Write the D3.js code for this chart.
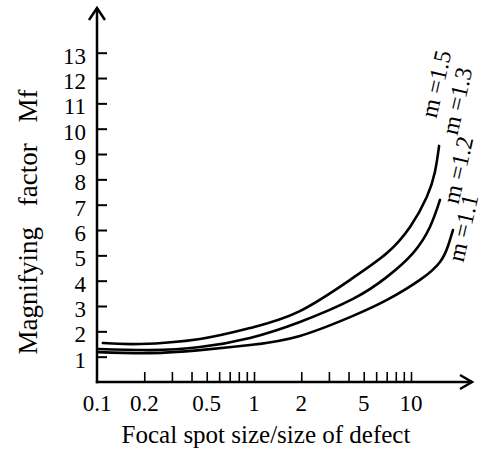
<!DOCTYPE html>
<html>
<head>
<meta charset="utf-8">
<script src="https://cdn.jsdelivr.net/npm/d3@7"></script>
<style>
  html, body { margin: 0; padding: 0; background: #fff; }
  svg { display: block; }
  text { font-family: "Liberation Serif", "Times New Roman", serif; fill: #000; }
</style>
</head>
<body>
<svg id="chart" width="485" height="452"></svg>
<script>
// ---- data ----
const xTickValues = [0.2, 0.3, 0.4, 0.5, 0.6, 0.7, 0.8, 0.9, 1, 2, 3, 4, 5, 6, 7, 8, 9, 10];
const xTickLabels = [0.1, 0.2, 0.5, 1, 2, 5, 10];
const yTickValues = [1, 2, 3, 4, 5, 6, 7, 8, 9, 10, 11, 12, 13];

// upper curve
const xUpper = [0.109, 0.188, 0.453, 0.943, 1.96, 4.27, 7.03, 9.86, 12.6, 14.2, 15.1];
const yUpper = [1.54, 1.50, 1.70, 2.13, 2.80, 4.11, 5.09, 6.12, 7.30, 8.29, 9.32];
// middle curve
const xMiddle = [0.1015, 0.218, 0.453, 0.943, 1.96, 4.27, 7.03, 10.3, 13.2, 15.3];
const yMiddle = [1.30, 1.26, 1.38, 1.74, 2.37, 3.28, 4.15, 5.09, 6.12, 7.19];
// lower curve
const xLower = [0.1015, 0.218, 0.453, 0.943, 1.96, 4.27, 7.03, 11.4, 15.3, 17.2, 18.5];
const yLower = [1.18, 1.14, 1.26, 1.46, 1.82, 2.61, 3.24, 4.03, 4.74, 5.37, 6.00];

const curveLabels = ["m =1.5", "m =1.3", "m =1.2", "m =1.1"];

const xTitle = "Focal spot size/size of defect";
const yTitle = "Magnifying factor Mf";

// ---- layout ----
const svg = d3.select("#chart");
const x = d3.scaleLog().domain([0.1, 10]).range([97, 411]);
const y = d3.scaleLinear().domain([0, 13]).range([382, 52.7]);

const axisW = 2.5;

// curves
const line = d3.line()
  .x(d => x(d[0]))
  .y(d => y(d[1]))
  .curve(d3.curveNatural);

[[xUpper, yUpper], [xMiddle, yMiddle], [xLower, yLower]].forEach(([xs, ys]) => {
  svg.append("path")
    .attr("d", line(xs.map((v, i) => [v, ys[i]])))
    .attr("fill", "none")
    .attr("stroke", "#000")
    .attr("stroke-width", 2.6)
    .attr("stroke-linecap", "round");
});

// y axis
const yAxis = d3.axisRight(y).tickValues(yTickValues).tickSize(10).tickFormat("");
const gy = svg.append("g").attr("transform", `translate(${x(0.1)},0)`).call(yAxis);
gy.select(".domain").remove();
gy.selectAll(".tick line").attr("stroke", "#000").attr("stroke-width", 2);

svg.append("g").selectAll("text").data(yTickValues).join("text")
  .attr("x", 86)
  .attr("y", d => y(d) + 11)
  .attr("text-anchor", "end")
  .attr("font-size", 23)
  .text(d => d);

// x axis
const xAxis = d3.axisTop(x).tickValues(xTickValues).tickSize(10).tickFormat("");
const gx = svg.append("g").attr("transform", `translate(0,${y(0)})`).call(xAxis);
gx.select(".domain").remove();
gx.selectAll(".tick line").attr("stroke", "#000").attr("stroke-width", 1.6);

svg.append("g").selectAll("text").data(xTickLabels).join("text")
  .attr("x", d => x(d))
  .attr("y", 411)
  .attr("text-anchor", "middle")
  .attr("font-size", 23)
  .text(d => d);

// axis lines with arrows
const x0 = x(0.1), y0 = y(0);
svg.append("line").attr("x1", x0).attr("y1", y0 + 1.2).attr("x2", x0).attr("y2", 8)
  .attr("stroke", "#000").attr("stroke-width", axisW);
svg.append("line").attr("x1", x0 - 1.2).attr("y1", y0).attr("x2", 472).attr("y2", y0)
  .attr("stroke", "#000").attr("stroke-width", axisW);
svg.append("polyline")
  .attr("points", `${x0 - 8},${20} ${x0},${8} ${x0 + 8},${20}`)
  .attr("fill", "none").attr("stroke", "#000").attr("stroke-width", axisW);
svg.append("polyline")
  .attr("points", `${460},${y0 - 7} ${472},${y0} ${460},${y0 + 7}`)
  .attr("fill", "none").attr("stroke", "#000").attr("stroke-width", axisW);

// titles
svg.append("text")
  .attr("x", 266).attr("y", 443)
  .attr("text-anchor", "middle")
  .attr("font-size", 25)
  .text(xTitle);

svg.append("text")
  .attr("transform", "translate(37,222) rotate(-90)")
  .attr("text-anchor", "middle")
  .attr("font-size", 27)
  .attr("word-spacing", 14)
  .text(yTitle);

// curve labels
const labelLayout = [[436, 84], [457, 101], [458, 170], [463, 228]];
svg.append("g").selectAll("text").data(curveLabels).join("text")
  .attr("transform", (d, i) => `translate(${labelLayout[i][0]},${labelLayout[i][1]}) rotate(-77)`)
  .attr("text-anchor", "middle")
  .attr("dominant-baseline", "central")
  .attr("font-size", 24)
  .style("white-space", "pre")
  .text(d => d);
</script>
</body>
</html>
